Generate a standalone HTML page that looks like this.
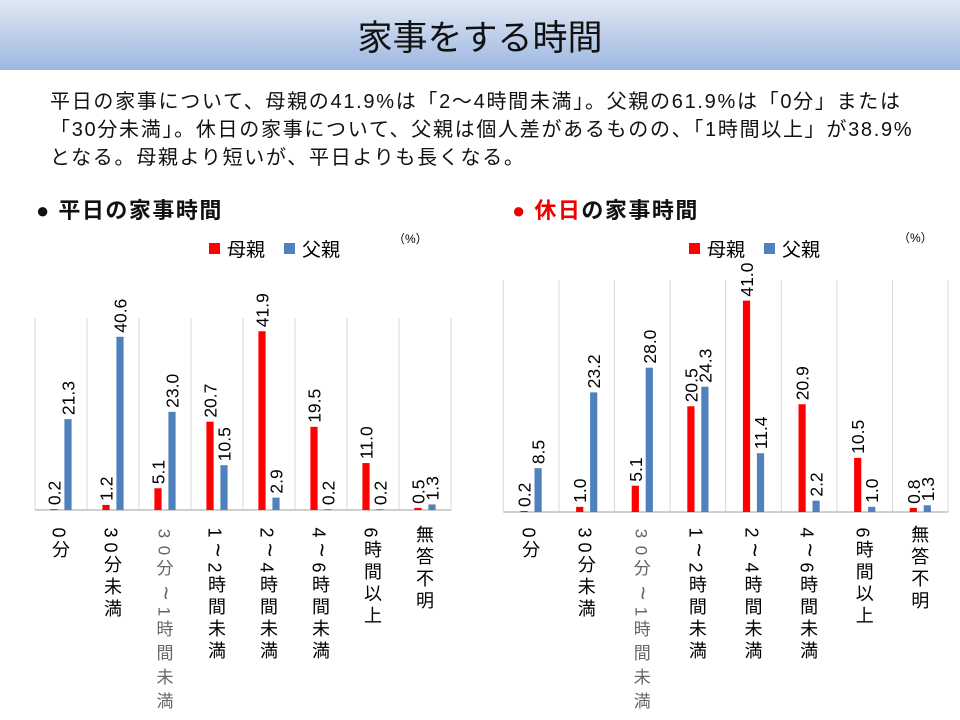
<!DOCTYPE html>
<html><head><meta charset="utf-8">
<style>
*{margin:0;padding:0}
body{width:960px;height:720px;position:relative;background:#fff;overflow:hidden;font-family:"Liberation Sans","Noto Sans CJK JP",sans-serif;}
.hdr{position:absolute;left:0;top:0;width:960px;height:70px;background:linear-gradient(#e0e8f4,#9db7e1);}
.title{position:absolute;left:0;top:10px;width:960px;text-align:center;font-size:35px;color:#111;}
.para{position:absolute;left:50px;top:88px;font-size:20px;letter-spacing:1.7px;line-height:28px;color:#111;white-space:nowrap;}
.sec{position:absolute;top:193px;font-size:22px;letter-spacing:1.5px;font-weight:bold;color:#111;}
.cl{position:absolute;top:525px;width:20px;font-size:18px;color:#000;line-height:20px;text-align:center;}
.cl b{display:block;font-weight:normal;height:22px;}
.cl i{display:block;font-style:normal;height:15px;line-height:20px;transform:rotate(90deg);}
.cl i.t{font-size:24px;height:20px;}
.g b{height:24px;}
.g i{height:17px;}
</style></head><body>
<div class="hdr"></div>
<div class="title">家事をする時間</div>
<div class="para">平日の家事について、母親の41.9%は「2～4時間未満」。父親の61.9%は「0分」または<br>「30分未満」。休日の家事について、父親は個人差があるものの、「1時間以上」が38.9%<br>となる。母親より短いが、平日よりも長くなる。</div>
<div class="sec" style="left:36px">●&nbsp;平日の家事時間</div>
<div class="sec" style="left:512px"><span style="color:#e00">●&nbsp;休日</span>の家事時間</div>
<svg width="960" height="720" style="position:absolute;left:0;top:0" font-family="Liberation Sans, Noto Sans CJK JP, sans-serif">
<g id="L"></g><g id="R"></g>
</svg>
<div id="labels"></div>
<script>
var cats=["0分","30分未満","30分～1時間未満","1～2時間未満","2～4時間未満","4～6時間未満","6時間以上","無答不明"];
function lab(t){var s="";for(var k=0;k<t.length;k++){var ch=t[k];if(ch=='～')s+='<i class="t">~</i>';else if(/[0-9]/.test(ch)){s+='<i>'+ch+'</i>';}else s+='<b>'+ch+'</b>';}return s;}
function chart(gid,x0,w,top,base,m,f,legX,pctX,pctY){
 var g=document.getElementById(gid),s="",sc=(base-top)/45;
 for(var i=0;i<=8;i++){var x=x0+i*w;s+='<line x1="'+x+'" y1="'+top+'" x2="'+x+'" y2="'+base+'" stroke="#d9d9d9" stroke-width="1"/>';}
 s+='<line x1="'+x0+'" y1="'+base+'" x2="'+(x0+8*w)+'" y2="'+base+'" stroke="#bfbfbf" stroke-width="1.5"/>';
 for(var i=0;i<8;i++){
  var c=x0+(i+0.5)*w;
  [[m[i],c-7,"#ff0000"],[f[i],c+7,"#4f81bd"]].forEach(function(b){
   var h=b[0]*sc,y=base-h;
   s+='<rect x="'+(b[1]-3.6)+'" y="'+y+'" width="7.2" height="'+h+'" fill="'+b[2]+'"/>';
   s+='<text transform="translate('+(b[1]+6.5)+','+(y-4)+') rotate(-90)" font-size="17.5" fill="#000">'+b[0].toFixed(1)+'</text>';
  });
  var d=document.createElement('div');d.className='cl'+(i==2?' g':'');d.innerHTML=lab(cats[i]);
  if(i==2){d.style.color='#666';d.style.fontSize='17px';}
  d.style.left=(c-10)+'px';document.getElementById('labels').appendChild(d);
 }
 s+='<rect x="'+legX+'" y="243" width="11" height="11" fill="#ff0000"/><text x="'+(legX+18)+'" y="256" font-size="19">母親</text>';
 s+='<rect x="'+(legX+75)+'" y="243" width="11" height="11" fill="#4f81bd"/><text x="'+(legX+93)+'" y="256" font-size="19">父親</text>';
 s+='<text x="'+pctX+'" y="'+pctY+'" font-size="12">（%）</text>';
 g.innerHTML=s;
}
chart("L",35,52,318,510,[0.2,1.2,5.1,20.7,41.9,19.5,11.0,0.5],[21.3,40.6,23.0,10.5,2.9,0.2,0.2,1.3],209,393,243);
chart("R",503.3,55.6,280,512,[0.2,1.0,5.1,20.5,41.0,20.9,10.5,0.8],[8.5,23.2,28.0,24.3,11.4,2.2,1.0,1.3],689,898,242);
</script>
</body></html>
